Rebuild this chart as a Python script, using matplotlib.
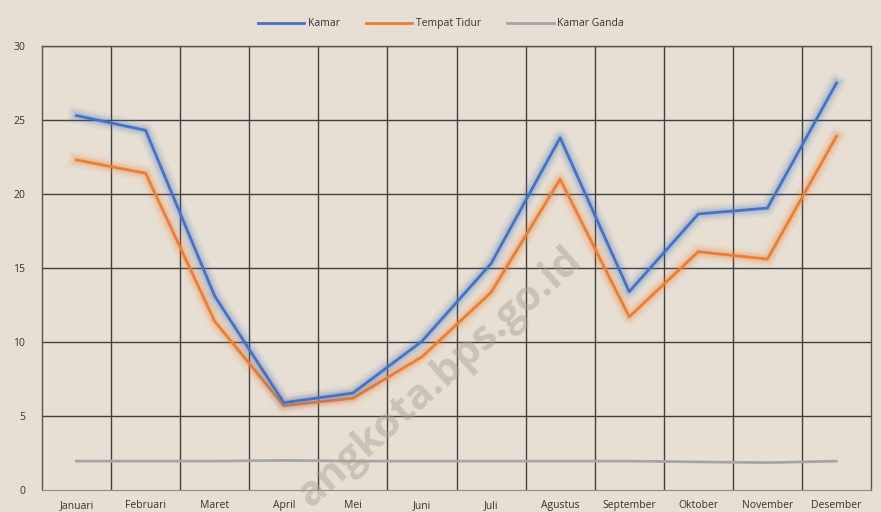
import matplotlib
matplotlib.use("Agg")
import matplotlib.pyplot as plt
import matplotlib.patheffects as pe
from matplotlib.lines import Line2D

months = ["Januari", "Februari", "Maret", "April", "Mei", "Juni", "Juli",
          "Agustus", "September", "Oktober", "November", "Desember"]
kamar = [25.3, 24.3, 13.1, 5.9, 6.55, 10.05, 15.3, 23.8, 13.4, 18.65, 19.05, 27.5]
tempat_tidur = [22.3, 21.4, 11.4, 5.7, 6.2, 9.0, 13.35, 21.0, 11.7, 16.1, 15.6, 23.9]
kamar_ganda = [1.95, 1.95, 1.95, 2.0, 1.95, 1.95, 1.95, 1.95, 1.95, 1.9, 1.85, 1.95]
yticks = [0, 5, 10, 15, 20, 25, 30]

bg = "#e7dfd3"
c_kamar, c_tt, c_kg = "#4472c4", "#ed7d31", "#a5a5a5"
fig = plt.figure(figsize=(8.81, 5.12), dpi=100, facecolor=bg)
ax = fig.add_axes([42/881, 1-490/512, 829/881, 444/512])
ax.set_facecolor(bg)

fig.text(440/881, 1-378/512, "angkota.bps.go.id", rotation=42, ha="center", va="center",
         fontsize=30, color="#a89f92", alpha=0.45, fontweight="bold", family="Open Sans", zorder=0)

x = list(range(len(months)))
def glow(color):
    return [pe.Stroke(linewidth=12, foreground=color, alpha=0.07),
            pe.Stroke(linewidth=8, foreground=color, alpha=0.10),
            pe.Stroke(linewidth=5, foreground=color, alpha=0.15),
            pe.Normal()]

ax.plot(x, kamar, color=c_kamar, lw=2, path_effects=glow(c_kamar), zorder=4)
ax.plot(x, tempat_tidur, color=c_tt, lw=2, path_effects=glow(c_tt), zorder=3)
ax.plot(x, kamar_ganda, color=c_kg, lw=2, zorder=3)

ax.set_xlim(-0.5, len(months) - 0.5)
ax.set_ylim(0, 30)
ax.set_yticks(yticks)
ax.set_xticks(x)
ax.set_xticklabels(months)
ax.grid(False)
for yv in yticks[1:]:
    ax.axhline(yv, color="#404040", lw=1, zorder=1)
for xv in [i + 0.5 for i in range(len(months) - 1)]:
    ax.axvline(xv, color="#404040", lw=1, zorder=1)
for s in ["left", "right", "top"]:
    ax.spines[s].set_color("#555555")
    ax.spines[s].set_linewidth(1)
ax.spines["bottom"].set_color("#8c8c8c")
ax.tick_params(axis="both", which="both", length=0, labelsize=7.5, colors="#333333")
ax.tick_params(axis="x", pad=7)
ax.tick_params(axis="y", pad=12)
for t in ax.get_xticklabels() + ax.get_yticklabels():
    t.set_fontfamily("Open Sans")

handles = [Line2D([], [], color=c_kamar, lw=2), Line2D([], [], color=c_tt, lw=2),
           Line2D([], [], color=c_kg, lw=2)]
leg = fig.legend(handles, ["Kamar", "Tempat Tidur", "Kamar Ganda"],
                 loc="upper center", bbox_to_anchor=(0.5, 1 - 9/512), ncol=3, frameon=False,
                 prop={"family": "Open Sans", "size": 7.5}, handlelength=4.5,
                 columnspacing=2.5, handletextpad=0.3)
for t in leg.get_texts():
    t.set_color("#333333")

fig.savefig("out.png", dpi=100, facecolor=bg)
